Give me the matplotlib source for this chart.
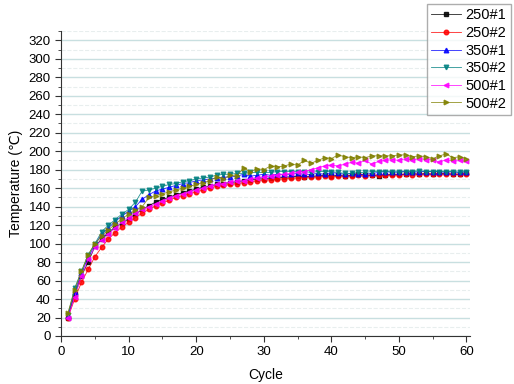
import matplotlib
matplotlib.use("Agg")
import matplotlib.pyplot as plt
from matplotlib.ticker import MultipleLocator

plt.rcParams['font.family'] = ['Liberation Sans', 'DejaVu Sans']

cycles = list(range(1, 61))

t_250_1 = [20, 45, 65, 80, 97, 105, 112, 118, 122, 127, 132, 137, 141, 145, 148, 150, 153, 155, 157, 159,
           161, 162, 164, 165, 166, 167, 168, 169, 170, 170, 171, 171, 172, 172, 173, 172, 173, 173, 174, 173,
           174, 173, 174, 175, 174, 174, 173, 174, 175, 175, 175, 176, 175, 176, 175, 176, 176, 175, 175, 176]
t_250_2 = [20, 40, 58, 72, 86, 96, 105, 112, 118, 123, 128, 133, 137, 141, 144, 147, 150, 152, 154, 156,
           158, 160, 162, 163, 164, 165, 166, 167, 168, 169, 169, 170, 170, 171, 171, 172, 172, 172, 173, 172,
           173, 173, 173, 174, 173, 174, 174, 174, 174, 174, 175, 174, 175, 175, 175, 175, 175, 175, 175, 175]
t_350_1 = [22, 48, 68, 85, 99, 110, 117, 124, 130, 135, 140, 148, 153, 157, 159, 161, 163, 165, 166, 168,
           169, 170, 171, 172, 172, 173, 175, 173, 174, 175, 174, 175, 175, 175, 176, 175, 175, 176, 175, 177,
           176, 175, 176, 175, 175, 176, 177, 178, 177, 178, 178, 177, 178, 178, 178, 178, 177, 178, 177, 178]
t_350_2 = [23, 52, 70, 88, 100, 113, 120, 126, 132, 137, 145, 157, 158, 160, 162, 164, 165, 167, 168, 170,
           171, 172, 174, 175, 175, 176, 176, 177, 177, 177, 177, 178, 178, 178, 178, 178, 177, 178, 178, 178,
           177, 176, 176, 177, 177, 178, 178, 178, 178, 177, 178, 178, 179, 178, 178, 178, 178, 178, 177, 178]
t_500_1 = [20, 42, 65, 83, 96, 104, 110, 117, 123, 128, 133, 137, 140, 143, 146, 149, 152, 154, 156, 158,
           160, 162, 164, 165, 167, 168, 168, 170, 171, 172, 173, 174, 175, 176, 177, 178, 180, 182, 184, 185,
           184, 186, 188, 187, 190, 186, 189, 190, 191, 190, 192, 190, 192, 191, 191, 188, 191, 189, 190, 189]
t_500_2 = [25, 50, 70, 88, 100, 108, 115, 121, 127, 132, 136, 140, 150, 152, 154, 156, 158, 160, 162, 164,
           166, 168, 172, 170, 174, 173, 182, 178, 181, 180, 184, 183, 184, 186, 185, 190, 187, 190, 193, 192,
           196, 194, 193, 194, 193, 195, 195, 195, 195, 196, 196, 194, 195, 194, 192, 195, 197, 193, 194, 192]

series = [
    ("250#1", t_250_1, "black", "s"),
    ("250#2", t_250_2, "red", "o"),
    ("350#1", t_350_1, "blue", "^"),
    ("350#2", t_350_2, "teal", "v"),
    ("500#1", t_500_1, "magenta", "<"),
    ("500#2", t_500_2, "olive", ">"),
]

fig = plt.figure(figsize=(5.14, 3.84), dpi=100)
ax = fig.add_axes([0.119, 0.125, 0.795, 0.794])

# сетка только по y
ax.yaxis.grid(True, which='major', color='#c8dfe0', linewidth=1.0)
ax.yaxis.grid(True, which='minor', color='#e8eeee', linewidth=0.8, linestyle='--')
ax.set_axisbelow(True)

for name, vals, col, mk in series:
    ax.plot(cycles, vals, color=col, marker=mk, markersize=3.3, linewidth=0.6,
            alpha=0.85, label=name)

ax.set_xlim(0, 60.5)
ax.set_ylim(0, 330)
ax.xaxis.set_major_locator(MultipleLocator(10))
ax.xaxis.set_minor_locator(MultipleLocator(5))
ax.yaxis.set_major_locator(MultipleLocator(20))
ax.yaxis.set_minor_locator(MultipleLocator(10))
ax.tick_params(which='both', direction='out', labelsize=9.5, color='#333333')
ax.tick_params(which='major', length=4)
ax.tick_params(which='minor', length=2)

for s in ['top', 'right']:
    ax.spines[s].set_visible(False)
ax.spines['left'].set_color('#333333')
ax.spines['bottom'].set_color('#333333')

ax.set_xlabel("Cycle", fontsize=10, labelpad=7)
ax.set_ylabel("Temperature (℃)", fontsize=10, labelpad=4)

fig.legend(loc='upper left', bbox_to_anchor=(427 / 514, 1 - 4 / 384), fontsize=10.5,
           frameon=True, fancybox=False, edgecolor='#999999',
           handlelength=2.0, labelspacing=0.25, borderpad=0.3, handletextpad=0.35,
           borderaxespad=0)

fig.savefig("out.png", dpi=100)
